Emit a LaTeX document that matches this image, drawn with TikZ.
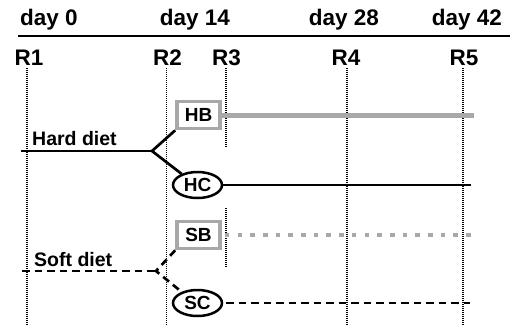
\documentclass[tikz,border=0pt]{standalone}
\usepackage{fontspec}
\setmainfont{Liberation Sans}
\usetikzlibrary{shapes.geometric}
\definecolor{boxgray}{gray}{0.66}
\begin{document}
\begin{tikzpicture}[x=1pt,y=-1pt,
  daylbl/.style={font=\bfseries\fontsize{22.5}{22}\selectfont, anchor=base, inner sep=0pt},
  rlbl/.style={font=\bfseries\fontsize{22.5}{22}\selectfont, anchor=base, inner sep=0pt},
  dietlbl/.style={font=\bfseries\fontsize{19.5}{20}\selectfont, anchor=base west, inner sep=0pt},
  guide/.style={line width=1.4pt, dash pattern=on 1pt off 1pt},
  grpbox/.style={draw=boxgray, line width=3.6pt, fill=white, minimum width=43pt,
    minimum height=27pt, inner sep=0pt, font=\bfseries\fontsize{19}{19}\selectfont},
  grpell/.style={ellipse, draw=black, line width=2.5pt, fill=white, minimum width=49pt,
    minimum height=26pt, inner sep=0pt, font=\bfseries\fontsize{19}{19}\selectfont},
  hardline/.style={line width=2.7pt},
  softline/.style={line width=2.7pt, dash pattern=on 7.5pt off 5pt},
  hbline/.style={draw=boxgray, line width=5pt},
  sbline/.style={draw=boxgray, line width=4.6pt, dash pattern=on 4.6pt off 8.1pt},
  scline/.style={line width=2.5pt, dash pattern=on 7.5pt off 5pt}]
\useasboundingbox (0,0) rectangle (510,325);

% time axis
\draw[line width=2.2pt] (18,36) -- (510,36);
\node[daylbl] (d0)  at (49,25)  {day 0};
\node[daylbl] (d14) at (195,25) {day 14};
\node[daylbl] (d28) at (344,25) {day 28};
\node[daylbl] (d42) at (467,25) {day 42};

% recording points
\node[rlbl] (r1) at (29,65)    {R1};
\node[rlbl] (r2) at (167.5,65) {R2};
\node[rlbl] (r3) at (226.5,65) {R3};
\node[rlbl] (r4) at (346,65)   {R4};
\node[rlbl] (r5) at (464,65)   {R5};

% vertical guides
\draw[guide] (27,68) -- (27,325);
\draw[guide] (166.5,68) -- (166.5,325);
\draw[guide] (226,68) -- (226,148);
\draw[guide] (226,208) -- (226,268);
\draw[guide] (347,68) -- (347,325);
\draw[guide] (463,68) -- (463,325);

% groups
\node[grpbox] (HB) at (198.5,115) {HB};
\node[grpell] (HC) at (197.5,185) {HC};
\node[grpbox] (SB) at (198.5,235) {SB};
\node[grpell] (SC) at (197.5,303) {SC};

% hard diet branch
\coordinate (hs) at (21,151);
\coordinate (hf) at (152,151);
\draw[hardline] (hs) -- (hf);
\draw[hardline] (HB.south west) -- (hf) -- (HC.145);
\node[dietlbl] (hard) at (32,145) {Hard diet};

% soft diet branch
\coordinate (ss) at (22,271);
\coordinate (sf) at (156,271);
\draw[softline] (ss) -- (sf);
\draw[softline] (SB.south west) -- (sf) -- (SC.145);
\node[dietlbl] (soft) at (34,266) {Soft diet};

% follow-up lines
\coordinate (hbe) at (474,115);
\coordinate (hce) at (471,185);
\coordinate (sbe) at (471,235);
\coordinate (sce) at (470,303);
\draw[hbline] (HB.east) -- (hbe);
\draw[hardline] (HC.east) -- (hce);
\draw[sbline] ([xshift=3pt]SB.east) -- (sbe);
\draw[scline] ([xshift=3pt]SC.east) -- (sce);
\end{tikzpicture}
\end{document}
